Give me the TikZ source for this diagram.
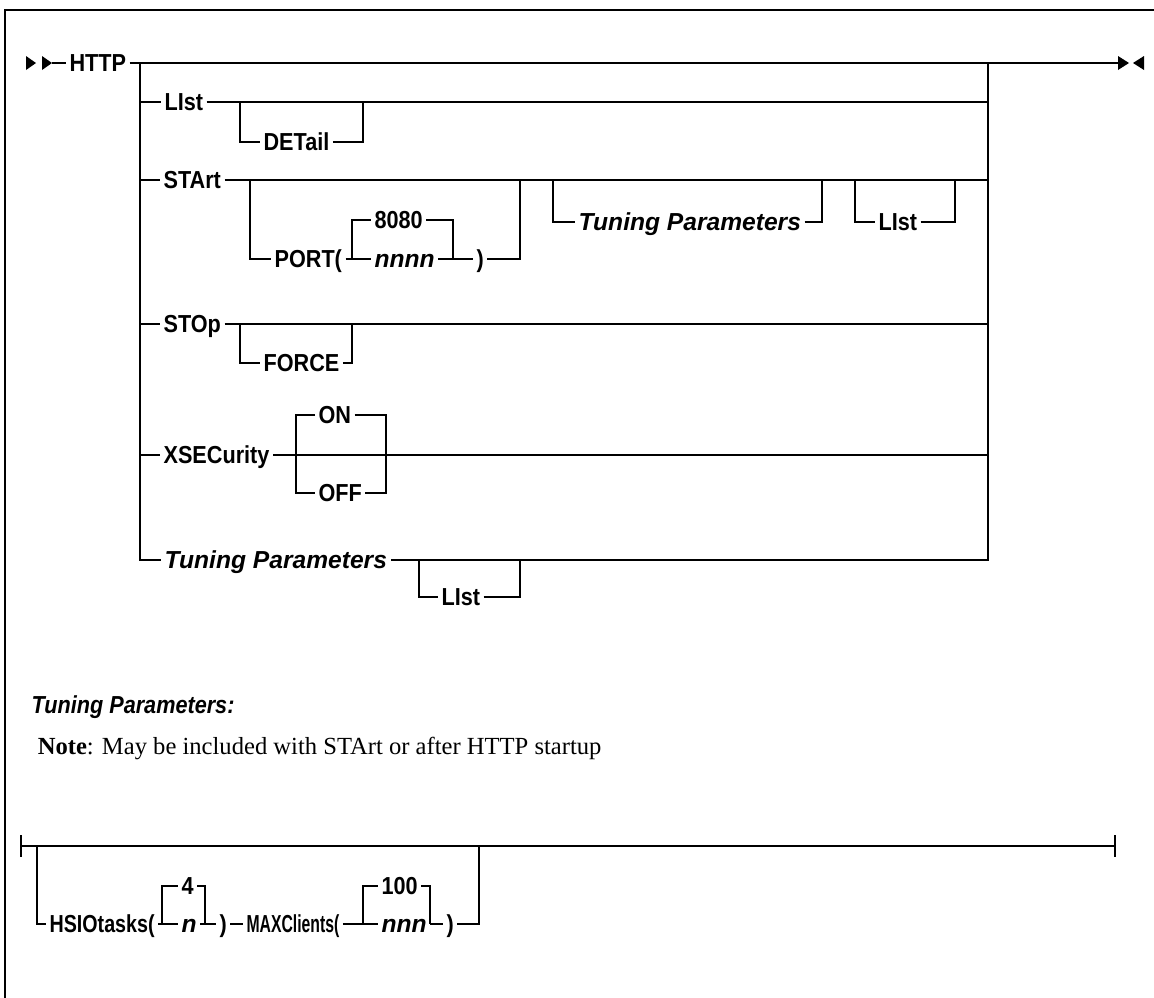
\documentclass[tikz,border=0pt]{standalone}
\usepackage{fontspec}
\setmainfont{Liberation Serif}
\newfontfamily\kwfont[FakeStretch=0.88]{Liberation Sans}
\newfontfamily\kwtight[FakeStretch=0.8]{Liberation Sans}
\newfontfamily\kwnarrow[FakeStretch=0.64]{Liberation Sans}
\newfontfamily\varfont{Liberation Sans}
\usepackage{tikz}
\tikzset{kw/.style={font=\kwfont\bfseries\fontsize{14}{16}\selectfont, anchor=west,
   inner xsep=1.6pt, inner ysep=0pt, text height=10pt, text depth=0pt},
 kwi/.style={kw, font=\varfont\bfseries\itshape\fontsize{14}{16}\selectfont},
 kwt/.style={kw, font=\kwtight\bfseries\fontsize{14}{16}\selectfont},
 kwn/.style={kw, font=\kwnarrow\bfseries\fontsize{14}{16}\selectfont},
 rail/.style={line width=0.9pt},
 }

\begin{document}
\begin{tikzpicture}[x=0.02cm, y=-0.02cm, rail]
        \useasboundingbox (0,0) rectangle (1154,998);
        \draw[line width=1.1pt] (1154,10) -- (5,10) -- (5,998);
        \foreach \x in {26, 42} {
            \fill (\x,56) -- (\x+10,63) -- (\x,70) -- cycle;
        }
        \fill (1118,56) -- (1129,63) -- (1118,70) -- cycle;
        \fill (1144,56) -- (1133,63) -- (1144,70) -- cycle;
        \coordinate (beg) at (52,63);
        \coordinate (fin) at (1119,63);
        \coordinate (j1) at (140,63);
        \coordinate (j2) at (988,63);
        \node[kw] (http) at (66,63) {HTTP};
        \draw (beg) -- (http);
        \draw (http) -- (fin);
        \node[kw] (list) at (161,102) {LIst};
        \node[kw] (detail) at (260,142) {DETail};
        \draw (j1 |- list) -- (list) -- (j2 |- list);
        \draw (240,102) |- (detail);
        \draw (detail) -| (363,102);
        \node[kw] (start) at (160,180) {STArt};
        \draw (j1 |- start) -- (start) -- (j2 |- start);
        \node[kw] (port) at (271,259) {PORT(};
        \node[kw] (dport) at (371,220) {8080};
        \node[kwi] (nnnn) at (371,259) {nnnn};
        \node[kw] (rp1) at (473,259) {)};
        \draw (250,180) |- (port);
        \draw (port) -- (nnnn) -- (rp1);
        \draw (352,259) |- (dport);
        \draw (dport) -| (453,259);
        \draw (rp1) -| (520,180);
        \node[kwi] (tpopt) at (575,222) {Tuning Parameters};
        \draw (553,180) |- (tpopt);
        \draw (tpopt) -| (822,180);
        \node[kw] (list2) at (875,222) {LIst};
        \draw (855,180) |- (list2);
        \draw (list2) -| (955,180);
        \node[kw] (stop) at (160,324) {STOp};
        \node[kw] (force) at (260,363) {FORCE};
        \draw (j1 |- stop) -- (stop) -- (j2 |- stop);
        \draw (240,324) |- (force);
        \draw (force) -| (352,324);
        \node[kw] (xsec) at (160,455) {XSECurity};
        \node[kw] (on) at (315,415) {ON};
        \node[kw] (off) at (315,493) {OFF};
        \draw (j1 |- xsec) -- (xsec) -- (j2 |- xsec);
        \draw (on) -| (296,493) |- (off);
        \draw (on) -| (386,493) |- (off);
        \node[kwi] (tp) at (161,560) {Tuning Parameters};
        \node[kw] (list3) at (438,597) {LIst};
        \draw (j1) |- (tp);
        \draw (j2) |- (tp);
        \draw (419,560) |- (list3);
        \draw (list3) -| (520,560);
        \node[kw, font=\kwfont\bfseries\itshape\fontsize{14}{16}\selectfont] (tphead) at (28,705) {Tuning Parameters:};
        \node[anchor=west, inner sep=0pt, font=\fontsize{14}{16}\selectfont] (note) at (37,748)
            {\textbf{Note}: May be included with STArt or after HTTP startup};
        \coordinate (b1) at (21,846);
        \coordinate (b2) at (1115,846);
        \draw (b1) -- (b2);
        \draw (21,835) -- (21,857);
        \draw (1115,835) -- (1115,857);
        \node[kwt] (hsio) at (46,924) {HSIOtasks(};
        \node[kw] (four) at (178,886) {4};
        \node[kwi] (n) at (178,924) {n};
        \node[kw] (rp2) at (216,924) {)};
        \draw (37,846) |- (hsio);
        \draw (hsio) -- (n) -- (rp2);
        \draw (162,924) |- (four);
        \draw (four) -| (205,924);
        \node[kwn] (maxc) at (243,924) {MAXClients(};
        \node[kw] (hundred) at (378,886) {100};
        \node[kwi] (nnn) at (378,924) {nnn};
        \node[kw] (rp3) at (443,924) {)};
        \draw (rp2) -- (maxc) -- (nnn) -- (rp3);
        \draw (363,924) |- (hundred);
        \draw (hundred) -| (430,924);
        \draw (rp3) -| (479,846);
    \end{tikzpicture}
\end{document}
